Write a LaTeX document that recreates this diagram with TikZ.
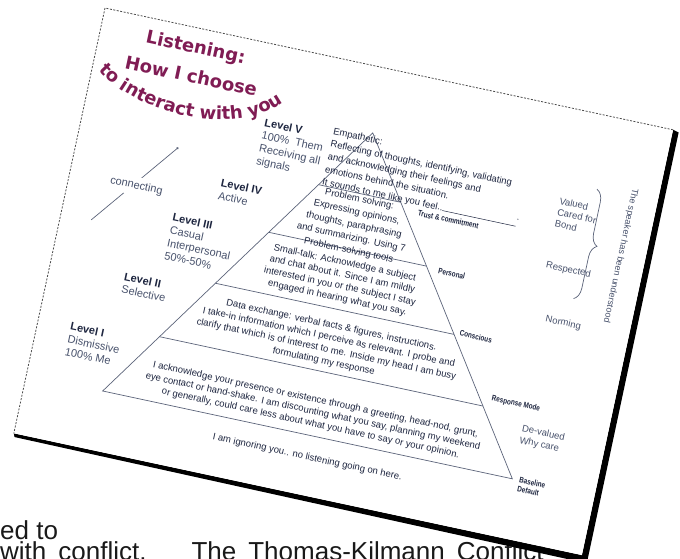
\documentclass[tikz,border=0pt]{standalone}
\usepackage{fontspec}
\setmainfont{Liberation Sans}
\newfontfamily\titlefont{DejaVu Sans}
\usepackage{tikz}
\usetikzlibrary{calc,arrows.meta,decorations.text,decorations.pathreplacing}

\definecolor{titlecol}{RGB}{128,28,84}
\definecolor{inkcol}{RGB}{30,38,64}
\definecolor{softink}{RGB}{72,82,108}
\definecolor{edgecol}{RGB}{92,100,122}

\newcommand{\titlesize}{\titlefont\bfseries\fontsize{18}{20}\selectfont}

\begin{document}
\begin{tikzpicture}[x=1pt,y=-1pt,
    edge_line/.style={draw=edgecol,line width=0.7pt},
    pyr_text/.style={text=inkcol,font=\fontsize{9.5}{13}\selectfont,inner sep=0,align=center,anchor=north},
    level_node/.style={text=softink,font=\fontsize{11}{13}\selectfont,inner sep=0,align=left,anchor=north west},
    tag_node/.style={text=inkcol,font=\fontsize{8}{9.5}\selectfont\bfseries,inner sep=0,align=left,anchor=west,xscale=0.8},
    side_node/.style={text=softink,font=\fontsize{9.5}{11.5}\selectfont,inner sep=0,align=left,anchor=north west},
    title_node/.style={text=titlecol,font=\titlesize,inner sep=0,anchor=base}]
\useasboundingbox (0,0) rectangle (680,558);
\clip (0,0) rectangle (680,558);

% running text of the page underneath
\node[anchor=base west,inner sep=0,font=\fontsize{26}{26}\selectfont,text=black!90] (txta) at (0,539) {ed to};
\node[anchor=base west,inner sep=0,font=\fontsize{26}{26}\selectfont,text=black!90] (txtb) at (0,560)
  {with\hspace{12pt}conflict.\hspace{45pt}The\hspace{12pt}Thomas-Kilmann\hspace{12pt}Conflict};

\begin{scope}[shift={(105,8)},rotate=-12.1,transform shape]
  % sheet, shadow and border
  \fill[black] (581,0) -- (587,1.5) -- (587.5,442) -- (1.5,438.5) -- (0,435) -- (581,435) -- cycle;
  \fill[white] (0,0) rectangle (581,435);
  \draw[gray!60!black,line width=0.8pt,dash pattern=on 2pt off 1.5pt] (581,0) -- (0,0) -- (0,435);

  % title
  \node[title_node] (ttl1) at (97,25.5) {Listening:};
  \node[title_node] (ttl2) at (98.5,55) {How I choose};
  \path[decorate,decoration={text along path,text align=center,text color=titlecol,
      text={|\titlesize|to interact with you}}]
    (4,60) .. controls (45,95) and (155,104) .. (196,52);

  % pyramid
  \coordinate (apex) at (288,66);
  \coordinate (bl) at (78,375);
  \coordinate (br) at (497,375);
  \draw[edge_line] (apex) -- (bl) -- (br) -- cycle;
  \foreach \f in {0.2006,0.3851,0.5825,0.7896}
    \draw[edge_line] ($(apex)!\f!(bl)$) -- ($(apex)!\f!(br)$);

  \node[pyr_text,align=left,anchor=north west] (emp) at (249,68.5)
    {Empathetic:\\Reflecting of thoughts, identifying, validating\\and acknowledging their feelings and\\
     emotions behind the situation.\\It sounds to me like you feel..\rule{75pt}{0.5pt}\raisebox{4pt}{\fontsize{5}{5}\selectfont''}};
  \node[pyr_text] (prob) at (289,129.5)
    {Problem solving:\\Expressing opinions,\\thoughts, paraphrasing\\and summarizing. Using 7\\Problem-solving tools};
  \node[pyr_text,font=\fontsize{9.5}{12}\selectfont] (small) at (288,194.5)
    {Small-talk: Acknowledge a subject\\and chat about it.  Since I am mildly\\interested in you or the subject I stay\\engaged in hearing what you say.};
  \node[pyr_text,font=\fontsize{9.5}{12.3}\selectfont] (data) at (288,258.5)
    {Data exchange: verbal facts \& figures, instructions.\\I take-in information which I perceive as relevant.  I probe and\\
     clarify that which is of interest to me. Inside my head I am busy\\formulating my response};
  \node[pyr_text,font=\fontsize{9.5}{12}\selectfont] (ack) at (288,334.5)
    {I acknowledge your presence or existence through a greeting, head-nod, grunt,\\
     eye contact or hand-shake.  I am discounting what you say, planning my weekend\\
     or generally, could care less about what you have to say or your opinion.};
  \node[pyr_text,anchor=base] (ignore) at (292,399.5) {I am ignoring you.. no listening going on here.};

  % levels on the left
  \node[level_node] (lv5) at (180,74) {\textcolor{inkcol}{\bfseries Level V}\\100\%\hspace{6pt}Them\\Receiving all\\signals};
  \node[level_node] (lv4) at (150,142) {\textcolor{inkcol}{\bfseries Level IV}\\Active};
  \node[level_node] (lv3) at (110,186) {\textcolor{inkcol}{\bfseries Level III}\\Casual\\Interpersonal\\50\%-50\%};
  \node[level_node] (lv2) at (75,254) {\textcolor{inkcol}{\bfseries Level II}\\Selective};
  \node[level_node] (lv1) at (33,314) {\textcolor{inkcol}{\bfseries Level I}\\Dismissive\\100\% Me};

  \coordinate (cfrom) at (31,210);
  \coordinate (cto) at (101,121);
  \draw[edgecol,line width=0.7pt,-{Circle[length=2.2pt]}] (cfrom) -- (cto);
  \node[fill=white,inner xsep=1pt,inner ysep=4pt,text=softink,font=\fontsize{11}{13}\selectfont] (conn) at (68,167.5) {connecting};

  % tags at the right of the pyramid
  \node[tag_node] (trust) at (349,135) {Trust \& commitment};
  \node[tag_node] (pers) at (381,187) {Personal};
  \node[tag_node] (consc) at (415,243.5) {Conscious};
  \node[tag_node] (resp) at (460,301) {Response Mode};
  \node[tag_node,font=\fontsize{8}{9}\selectfont\bfseries] (base) at (504,379) {Baseline\\Default};

  % outcomes
  \node[side_node] (valued) at (485,89.5) {Valued\\Cared for\\Bond};
  \node[side_node,anchor=base west] (respd) at (485,161.5) {Respected};
  \node[side_node,anchor=base west] (norm) at (496,214.5) {Norming};
  \node[side_node,font=\fontsize{9.5}{12}\selectfont] (deval) at (496,319.5) {De-valued\\Why care};
  \draw[edgecol,line width=0.7pt,decorate,decoration={brace,amplitude=12pt}] (519,74) -- (519,186);
  \node[text=softink,font=\fontsize{9}{11}\selectfont,inner sep=0,rotate=-90] (underst) at (556,134) {The speaker has been understood};
\end{scope}
\end{tikzpicture}
\end{document}
